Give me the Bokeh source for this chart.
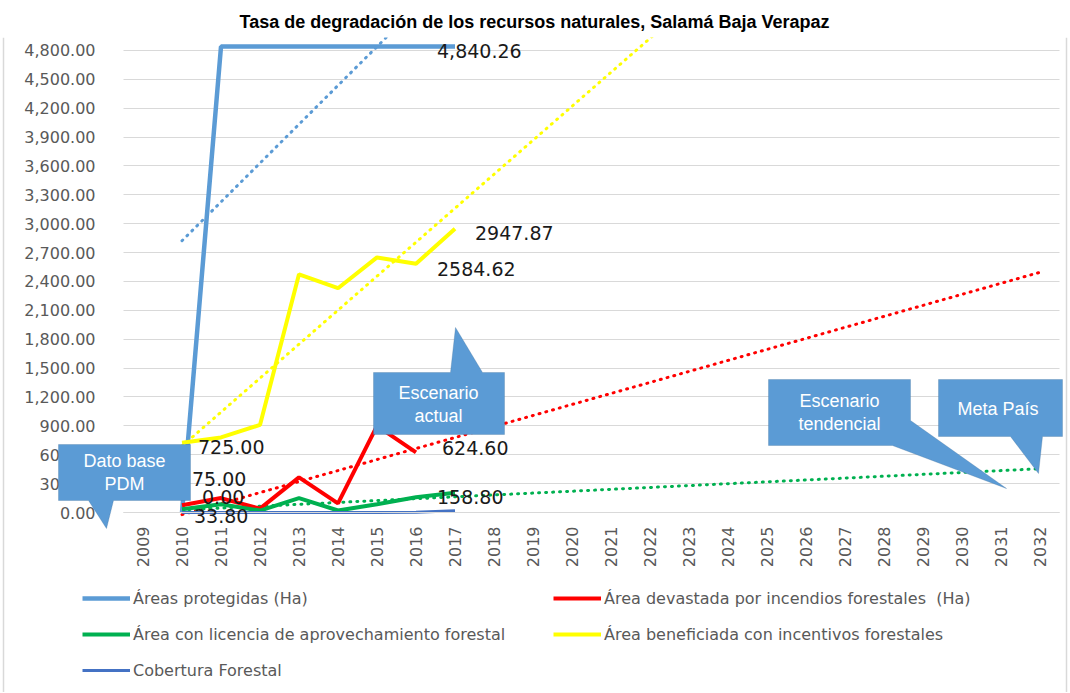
import numpy as np
from bokeh.plotting import figure
from bokeh.models import (Range1d, FixedTicker, NumeralTickFormatter, Legend, LinearAxis, Grid,
                          LegendItem, LabelSet, Label, PolyAnnotation, ColumnDataSource, Span)
from bokeh.core.properties import value
from bokeh.embed import file_html
from bokeh.resources import INLINE

# ---------------- data ----------------
title_text = "Tasa de degradación de los recursos naturales, Salamá Baja Verapaz"
years = [2009, 2010, 2011, 2012, 2013, 2014, 2015, 2016, 2017, 2018, 2019, 2020,
         2021, 2022, 2023, 2024, 2025, 2026, 2027, 2028, 2029, 2030, 2031, 2032]
obs_years = [2010, 2011, 2012, 2013, 2014, 2015, 2016, 2017]

areas_protegidas = [0.00, 4840.26, 4840.26, 4840.26, 4840.26, 4840.26, 4840.26, 4840.26]
area_devastada = [75.00, 150.0, 40.0, 365.0, 95.0, 900.0, 624.60]          # 2010-2016
area_licencia = [33.80, 85.0, 20.0, 150.0, 21.0, 85.0, 158.80, 205.0]
area_beneficiada = [725.00, 780.0, 910.0, 2475.0, 2330.0, 2650.0, 2584.62, 2947.87]
cobertura = [0.0, 0.0, 0.0, 0.0, 0.0, 0.0, 3.0, 18.0]

y_ticks = [0, 300, 600, 900, 1200, 1500, 1800, 2100, 2400, 2700, 3000, 3300, 3600,
           3900, 4200, 4500, 4800]

series_names = ["Áreas protegidas (Ha)",
                "Área devastada por incendios forestales  (Ha)",
                "Área con licencia de aprovechamiento forestal",
                "Área beneficiada con incentivos forestales",
                "Cobertura Forestal"]

callout_texts = ["Dato base\nPDM", "Escenario\nactual", "Escenario\ntendencial", "Meta  País"]

# ---------------- geometry ----------------
W, H = 1068, 692
TOP = 37                      # frame top (px)
PX_PER_YEAR = 39.0
X2009_PX = 142.5              # pixel centre of first category
ZERO_PX = 512.0               # pixel of value 0
Y_MAX = 4935.0
PX_PER_UNIT = (ZERO_PX - TOP) / Y_MAX
X_START = years[0] - X2009_PX / PX_PER_YEAR
X_END = X_START + W / PX_PER_YEAR
Y_START = Y_MAX - (H - TOP) / PX_PER_UNIT
AX_LEFT = years[0] - 0.5
AX_RIGHT = years[-1] + 0.5

BLUE = "#5B9BD5"
RED = "#FF0000"
GREEN = "#00B050"
YELLOW = "#FFFF00"
DBLUE = "#4472C4"
GREY_TXT = "#595959"
GRID = "#D9D9D9"

p = figure(width=W, height=H,
           x_range=Range1d(X_START, X_END), y_range=Range1d(Y_START, Y_MAX),
           x_axis_location=None, y_axis_location=None,
           output_backend="svg", toolbar_location=None,
           min_border_left=0, min_border_right=0, min_border_top=TOP, min_border_bottom=0,
           title=title_text)

# drop the default grids; a bounded one is added below
p.center = [r for r in p.center if not isinstance(r, Grid)]

p.title.text_font = "Liberation Sans"
p.title.text_font_size = "18px"
p.title.text_font_style = "bold"
p.title.text_color = "#000000"
p.title.align = "center"
p.title.standoff = 12

p.outline_line_color = None
p.background_fill_color = "white"
p.border_fill_color = "white"


def cx(px):
    return X_START + px / PX_PER_YEAR


def cy(py):
    return (ZERO_PX - py) / PX_PER_UNIT


# chart border (left / right edges)
for bx in (3, 1066):
    p.add_layout(Span(location=cx(bx), dimension="height", line_color=GRID, line_width=1.5,
                      level="underlay"))

# horizontal gridlines limited to the plot area
ygrid = Grid(dimension=1, ticker=FixedTicker(ticks=y_ticks), grid_line_color=GRID,
             grid_line_width=1)
if "cross_bounds" in Grid.properties():
    ygrid.cross_bounds = (AX_LEFT, AX_RIGHT)
    p.add_layout(ygrid)
else:
    p.segment(x0=[AX_LEFT] * len(y_ticks), x1=[AX_RIGHT] * len(y_ticks),
              y0=y_ticks, y1=y_ticks, line_color=GRID, line_width=1)

yaxis = LinearAxis(fixed_location=AX_LEFT, ticker=FixedTicker(ticks=y_ticks),
                   formatter=NumeralTickFormatter(format="0,0.00"),
                   bounds=(0, y_ticks[-1]),
                   axis_line_color=None, major_tick_line_color=None,
                   minor_tick_line_color=None, major_label_standoff=22,
                   major_label_text_font="DejaVu Sans", major_label_text_font_size="16px",
                   major_label_text_color=GREY_TXT)
p.add_layout(yaxis, "left")

xaxis = LinearAxis(fixed_location=0, ticker=FixedTicker(ticks=years),
                   formatter=NumeralTickFormatter(format="0"),
                   bounds=(AX_LEFT, AX_RIGHT),
                   axis_line_color=GRID, axis_line_width=1, major_tick_line_color=None,
                   minor_tick_line_color=None, major_label_standoff=8,
                   major_label_orientation=np.pi / 2,
                   major_label_text_font="DejaVu Sans", major_label_text_font_size="16px",
                   major_label_text_color=GREY_TXT)
p.add_layout(xaxis, "below")


def trend(vals):
    idx = np.arange(1, len(vals) + 1)
    slope, intercept = np.polyfit(idx, np.asarray(vals, dtype=float), 1)
    xs = years[1:]
    ys = [intercept + slope * (y - years[0]) for y in xs]
    return xs, ys


dot = dict(line_width=3, line_dash="1 6", line_cap="round")

# trend lines (Excel linear forecast)
for vals, col in [(areas_protegidas, BLUE), (area_beneficiada, YELLOW),
                  (area_devastada, RED), (area_licencia, GREEN)]:
    tx, ty = trend(vals)
    p.line(tx, ty, line_color=col, **dot)

# series
r_ap = p.line(obs_years, areas_protegidas, line_color=BLUE, line_width=4.5)
r_ad = p.line(obs_years[:len(area_devastada)], area_devastada, line_color=RED, line_width=4)
r_al = p.line(obs_years, area_licencia, line_color=GREEN, line_width=4)
r_ab = p.line(obs_years, area_beneficiada, line_color=YELLOW, line_width=4)
r_cf = p.line(obs_years, cobertura, line_color=DBLUE, line_width=3)

# ---------------- data labels ----------------
lab = ColumnDataSource(dict(
    x=[2010, 2010, 2010, 2010, 2017, 2017, 2016, 2016, 2016],
    y=[area_beneficiada[0], area_devastada[0], areas_protegidas[0], area_licencia[0],
       areas_protegidas[7], area_beneficiada[7], area_beneficiada[6], area_devastada[6],
       area_licencia[6]],
    text=["725.00", "75.00", "0.00", "33.80", "4,840.26", "2947.87", "2584.62", "624.60", "158.80"],
    xo=[16, 10, 20, 12, -18, 20, 21, 26, 21],
    yo=[-4, 26, 16, -7, -4, -4, -5, 4, 0],
))
p.add_layout(LabelSet(x="x", y="y", text="text", x_offset="xo", y_offset="yo", source=lab,
                      text_font=value("DejaVu Sans"), text_font_size="19px",
                      text_color="#1a1a1a", text_align="left", text_baseline="middle"))

# ---------------- callouts ----------------
callout_shapes = [
    [(58, 444), (190, 444), (190, 500), (113, 500), (106, 528), (88, 500), (58, 500)],
    [(373, 372), (450, 372), (455, 327), (482, 372), (504, 372), (504, 434), (373, 434)],
    [(768, 379), (910, 379), (910, 420), (1006, 488), (892, 445), (768, 445)],
    [(938, 379), (1062, 379), (1062, 436), (1042, 436), (1038, 473), (1010, 436), (938, 436)],
]
callout_centers = [(124, 472), (438, 404), (839, 412), (1000, 408)]

for shape, (tx, ty), txt in zip(callout_shapes, callout_centers, callout_texts):
    p.add_layout(PolyAnnotation(xs=[cx(a) for a, b in shape], ys=[cy(b) for a, b in shape],
                                fill_color=BLUE, fill_alpha=1.0,
                                line_color="#41719C", line_width=1))
    p.add_layout(Label(x=cx(tx), y=cy(ty), text=txt, text_align="center",
                       text_baseline="middle", text_color="white",
                       text_font="Liberation Sans", text_font_size="18px",
                       text_line_height=1.15))

# ---------------- legend ----------------
legend = Legend(items=[LegendItem(label=series_names[0], renderers=[r_ap]),
                       LegendItem(label=series_names[1], renderers=[r_ad]),
                       LegendItem(label=series_names[2], renderers=[r_al]),
                       LegendItem(label=series_names[3], renderers=[r_ab]),
                       LegendItem(label=series_names[4], renderers=[r_cf])],
                orientation="horizontal", ncols=2,
                location=(82, 12),
                label_text_font="DejaVu Sans", label_text_font_size="16px",
                label_text_color=GREY_TXT,
                glyph_width=48, glyph_height=20, label_height=20, label_width=404,
                label_standoff=3, spacing=16, padding=0, margin=0,
                border_line_color=None, background_fill_alpha=0)
p.add_layout(legend, "center")

open("out.html", "w").write(file_html(p, INLINE))
